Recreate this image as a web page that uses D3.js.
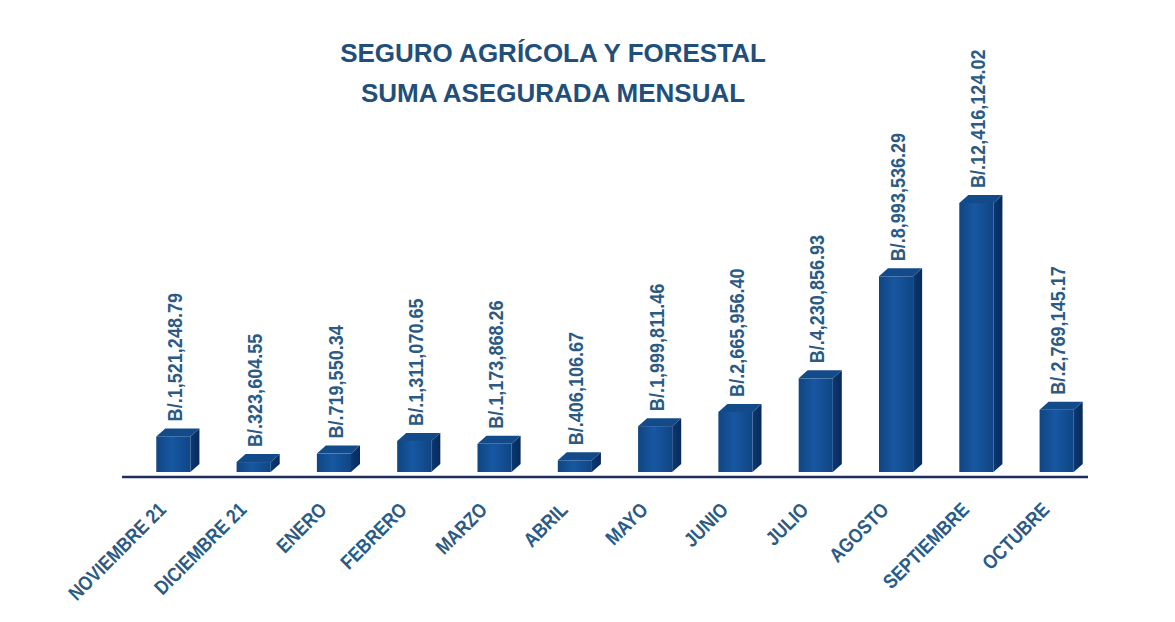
<!DOCTYPE html>
<html>
<head>
<meta charset="utf-8">
<script src="https://cdnjs.cloudflare.com/ajax/libs/d3/7.8.5/d3.min.js"></script>
<style>
  body { margin: 0; background: #fff; }
  svg { display: block; }
</style>
</head>
<body>
<svg class="figure" width="1175" height="622"></svg>
<script>
var months = ["NOVIEMBRE 21", "DICIEMBRE 21", "ENERO", "FEBRERO", "MARZO", "ABRIL",
  "MAYO", "JUNIO", "JULIO", "AGOSTO", "SEPTIEMBRE", "OCTUBRE"];
var amounts = [1521248.79, 323604.55, 719550.34, 1311070.65, 1173868.26, 406106.67,
  1999811.46, 2665956.40, 4230856.93, 8993536.29, 12416124.02, 2769145.17];
var amountLabels = ["B/.1,521,248.79", "B/.323,604.55", "B/.719,550.34", "B/.1,311,070.65",
  "B/.1,173,868.26", "B/.406,106.67", "B/.1,999,811.46", "B/.2,665,956.40",
  "B/.4,230,856.93", "B/.8,993,536.29", "B/.12,416,124.02", "B/.2,769,145.17"];
var titleLines = ["SEGURO AGRÍCOLA Y FORESTAL", "SUMA ASEGURADA MENSUAL"];

var svg = d3.select("svg.figure");
var baseY = 472;
var depthX = 9, depthY = 8;
var labelFont = "'Liberation Sans', Arial, sans-serif";

var x = d3.scaleBand()
  .domain(months)
  .range([133, 1097])
  .paddingInner(0.575)
  .paddingOuter(0.29);

var y = d3.scaleLinear()
  .domain([0, 12416124.02])
  .range([469, 203]);

// gradients
var defs = svg.append("defs");
var front = defs.append("linearGradient").attr("id", "front");
front.append("stop").attr("offset", "0%").attr("stop-color", "#104580");
front.append("stop").attr("offset", "45%").attr("stop-color", "#1757a2");
front.append("stop").attr("offset", "100%").attr("stop-color", "#0f4585");
var side = defs.append("linearGradient").attr("id", "side");
side.append("stop").attr("offset", "0%").attr("stop-color", "#0c3872");
side.append("stop").attr("offset", "100%").attr("stop-color", "#082a5a");

// title
svg.selectAll("text.title")
  .data(titleLines)
  .enter()
  .append("text")
  .attr("class", "title")
  .attr("x", 553)
  .attr("y", function(d, i) { return 62 + i * 40; })
  .attr("text-anchor", "middle")
  .attr("font-family", "'Liberation Sans', Arial, sans-serif")
  .attr("font-weight", "bold")
  .attr("font-size", 26)
  .attr("fill", "#1f4f7a")
  .text(function(d) { return d; });

// bars
var bars = svg.selectAll("g.bar")
  .data(amounts)
  .enter()
  .append("g")
  .attr("class", "bar");

bars.append("path")
  .attr("fill", "url(#side)")
  .attr("d", function(d, i) {
    var x1 = x(months[i]) + x.bandwidth(), t = y(d);
    return "M" + x1 + "," + baseY + "L" + x1 + "," + t +
      "L" + (x1 + depthX) + "," + (t - depthY) +
      "L" + (x1 + depthX) + "," + (baseY - depthY) + "Z";
  });

bars.append("path")
  .attr("fill", "#134a8a")
  .attr("d", function(d, i) {
    var x0 = x(months[i]), x1 = x0 + x.bandwidth(), t = y(d);
    return "M" + x0 + "," + t + "L" + (x0 + depthX) + "," + (t - depthY) +
      "L" + (x1 + depthX) + "," + (t - depthY) + "L" + x1 + "," + t + "Z";
  });

bars.append("rect")
  .attr("fill", "url(#front)")
  .attr("x", function(d, i) { return x(months[i]); })
  .attr("y", function(d) { return y(d); })
  .attr("width", x.bandwidth())
  .attr("height", function(d) { return baseY - y(d); });

// value labels (narrowed along the text direction)
svg.selectAll("text.value")
  .data(amounts)
  .enter()
  .append("text")
  .attr("class", "value")
  .attr("transform", function(d, i) {
    var cx = x(months[i]) + x.bandwidth() / 2 + 1;
    var cy = y(d) - depthY - 7;
    return "translate(" + cx + "," + cy + ") rotate(-90) scale(0.86,1)";
  })
  .attr("dy", "0.36em")
  .attr("font-family", labelFont)
  .attr("font-weight", "bold")
  .attr("font-size", 21)
  .attr("fill", "#2b5b85")
  .text(function(d, i) { return amountLabels[i]; });

// axis line
svg.append("line")
  .attr("x1", 122)
  .attr("x2", 1088)
  .attr("y1", 477)
  .attr("y2", 477)
  .attr("stroke", "#1c2f5c")
  .attr("stroke-width", 2.5);

// category labels
svg.selectAll("text.month")
  .data(months)
  .enter()
  .append("text")
  .attr("class", "month")
  .attr("transform", function(d) {
    var cx = x(d) + x.bandwidth() / 2 - 6;
    return "translate(" + cx + ",511) rotate(-45) scale(0.86,1)";
  })
  .attr("text-anchor", "end")
  .attr("font-family", labelFont)
  .attr("font-weight", "bold")
  .attr("font-size", 20)
  .attr("fill", "#2b5b85")
  .text(function(d) { return d; });
</script>
</body>
</html>
